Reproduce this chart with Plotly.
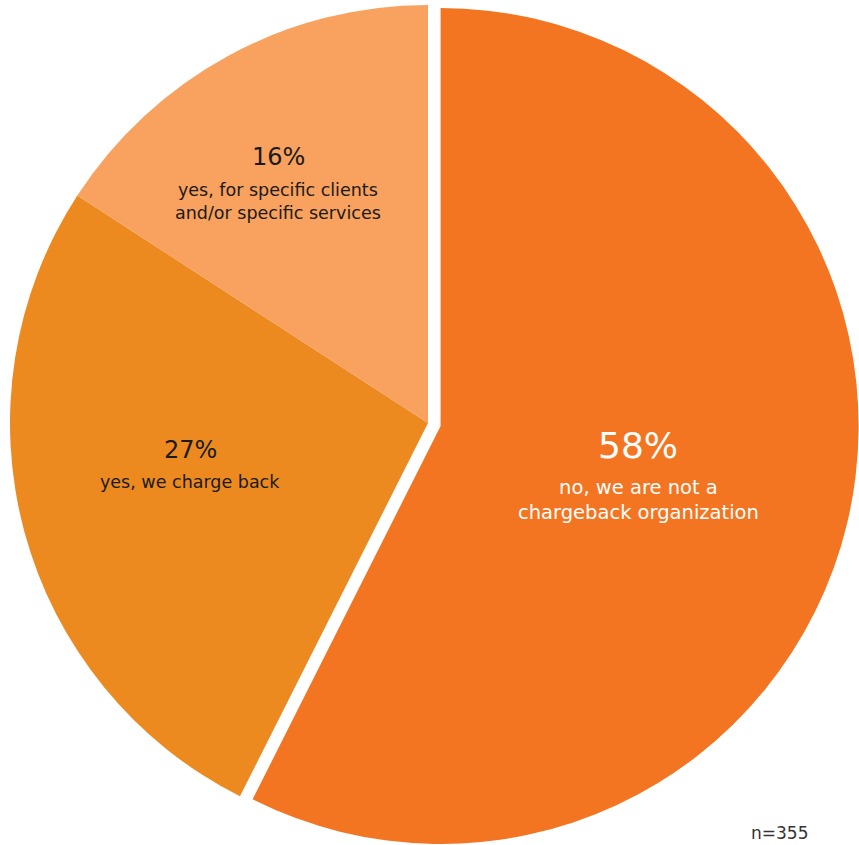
import math
import plotly.graph_objects as go

# ---- data ----
categories = ["no, we are not a<br>chargeback organization",
              "yes, we charge back",
              "yes, for specific clients<br>and/or specific services"]
values = [58, 27, 16]
pct_labels = ["58%", "27%", "16%"]
colors = ["#F47521", "#EC8A20", "#F9A15E"]
sample_note = "n=355"

W, H = 859, 845
R = 418            # pie radius in px
CX, CY = 428, 423  # pie centre (px from top-left)
PULL = 0.031       # pull of the first slice, as fraction of radius

fig = go.Figure()

def domain_for(cx, cy):
    return dict(x=[max(0, (cx - R) / W), min(1, (cx + R) / W)],
                y=[max(0, 1 - (cy + R) / H), min(1, 1 - (cy - R) / H)])

transparent = "rgba(0,0,0,0)"
common = dict(labels=categories, values=values, sort=False, direction="clockwise",
              rotation=0, textinfo="none", hoverinfo="skip", showlegend=False)

# unpulled slices
fig.add_trace(go.Pie(**common, domain=domain_for(CX, CY),
                     marker=dict(colors=[transparent, colors[1], colors[2]],
                                 line=dict(width=0))))

# pulled first slice (offset along its mid angle)
total = sum(values)
mid = math.radians(values[0] / total * 360 / 2)
dx = PULL * R * math.sin(mid)
dy = -PULL * R * math.cos(mid)
fig.add_trace(go.Pie(**common, domain=domain_for(CX + dx, CY + dy),
                     marker=dict(colors=[colors[0], transparent, transparent],
                                 line=dict(width=0))))

FONT = "DejaVu Sans"
label_pos = [(638, 445, 500), (190, 450, 482), (278, 157, 201)]
pct_size = [36, 24, 24]
sub_size = [19.5, 17.5, 17.5]
txt_color = ["white", "#1a1a1a", "#1a1a1a"]

ann = []
for i in range(len(values)):
    x, yp, ys = label_pos[i]
    ann.append(dict(x=x / W, y=1 - yp / H, xref="paper", yref="paper",
                    text=pct_labels[i], showarrow=False,
                    font=dict(family=FONT, size=pct_size[i], color=txt_color[i]),
                    xanchor="center", yanchor="middle"))
    ann.append(dict(x=x / W, y=1 - ys / H, xref="paper", yref="paper",
                    text=categories[i], showarrow=False,
                    font=dict(family=FONT, size=sub_size[i], color=txt_color[i]),
                    xanchor="center", yanchor="middle"))
ann.append(dict(x=779 / W, y=1 - 833 / H, xref="paper", yref="paper",
                text=sample_note, showarrow=False,
                font=dict(family=FONT, size=17, color="#333333"),
                xanchor="center", yanchor="middle"))

fig.update_layout(width=W, height=H, margin=dict(l=0, r=0, t=0, b=0),
                  paper_bgcolor="white", plot_bgcolor="white",
                  annotations=ann, showlegend=False)

fig.write_html("out.html", config={"displayModeBar": False},
               post_script="document.body.style.margin='0';document.body.style.overflow='hidden';")
